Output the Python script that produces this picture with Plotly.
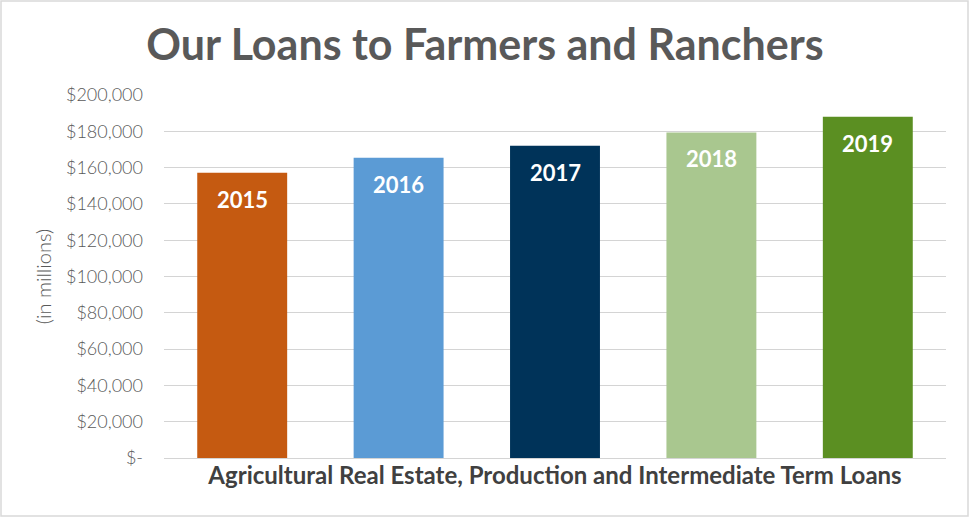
import plotly.graph_objects as go

# data
years = ["2015", "2016", "2017", "2018", "2019"]
loans = [157100, 165400, 172000, 179400, 188000]
bar_colors = ["#c55a11", "#5b9bd5", "#003359", "#a9c78f", "#5b8f22"]
tick_vals = [0, 20000, 40000, 60000, 80000, 100000, 120000, 140000, 160000, 180000, 200000]
tick_text = ["$-"] + [f"${v:,}" for v in tick_vals[1:]]

W, H = 970, 518
margin = dict(l=164, r=24, t=95, b=60)
grey = "#595959"
font_family = "Lato, 'Open Sans', sans-serif"

fig = go.Figure()
fig.add_trace(
    go.Bar(
        x=years,
        y=loans,
        marker=dict(color=bar_colors, line=dict(width=0)),
        hoverinfo="skip",
    )
)

# year labels sit a little below the top of each bar
# (category index as x, so the year strings are not read as numbers)
for i, (year, value) in enumerate(zip(years, loans)):
    fig.add_annotation(
        x=i,
        y=value,
        text=year,
        showarrow=False,
        yanchor="top",
        yshift=-11,
        font=dict(color="white", size=22, family=font_family, weight="bold"),
    )

# light grey frame round the whole chart (paper coords from margins)
pw = W - margin["l"] - margin["r"]
ph = H - margin["t"] - margin["b"]
fig.add_shape(
    type="rect",
    xref="paper",
    yref="paper",
    x0=(1 - margin["l"]) / pw,
    x1=(W - 2 - margin["l"]) / pw,
    y0=-(margin["b"] - 2) / ph,
    y1=(ph + margin["t"] - 1) / ph,
    line=dict(color="#d9d9d9", width=1.5),
    layer="below",
)

fig.update_layout(
    width=W,
    height=H,
    margin=margin,
    paper_bgcolor="white",
    plot_bgcolor="white",
    bargap=0.425,
    showlegend=False,
    font=dict(family=font_family, color=grey),
    title=dict(
        text="Our Loans to Farmers and Ranchers",
        x=0.5,
        xanchor="center",
        y=1 - 45 / H,
        yanchor="middle",
        font=dict(size=43, color=grey, family=font_family, weight="bold"),
    ),
    xaxis=dict(
        type="category",
        range=[-0.5, len(years) - 0.5],
        showticklabels=False,
        showgrid=False,
        zeroline=False,
        showline=False,
        title=dict(
            text="Agricultural Real Estate, Production and Intermediate Term Loans",
            font=dict(size=24, color="#404040", family=font_family, weight="bold"),
            standoff=9,
        ),
    ),
    yaxis=dict(
        range=[0, 200000],
        tickvals=tick_vals,
        ticktext=tick_text,
        tickfont=dict(size=18, color=grey, weight=300),
        showgrid=True,
        gridcolor="#d4d4d4",
        gridwidth=1,
        zeroline=True,
        zerolinecolor="#d4d4d4",
        zerolinewidth=1,
        ticks="",
        ticklabelstandoff=20,
        title=dict(text="(in millions)", font=dict(size=20, color=grey, weight=300), standoff=8),
    ),
)

fig.write_html(
    "out.html",
    config={"displayModeBar": False},
    post_script="document.body.style.margin = '0';",
)
